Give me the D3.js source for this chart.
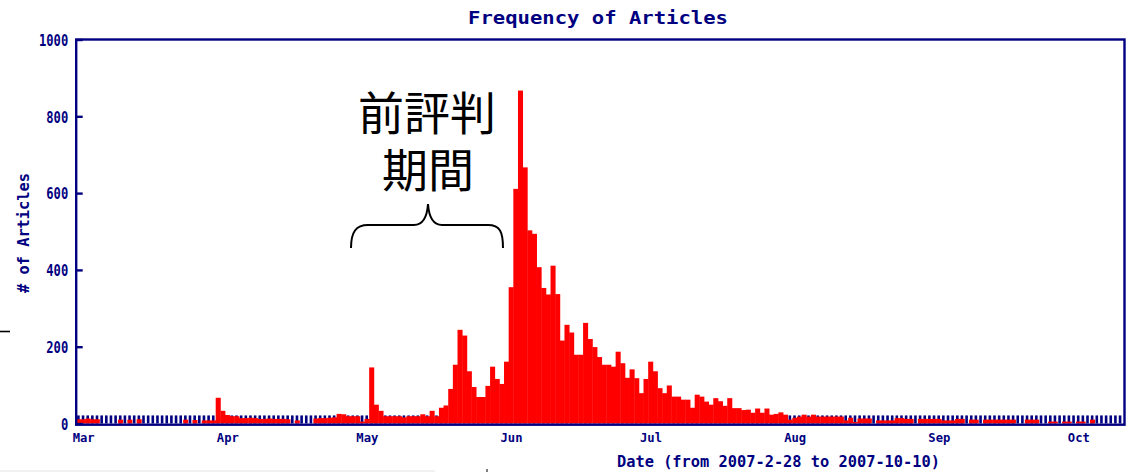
<!DOCTYPE html>
<html>
<head>
<meta charset="utf-8">
<script src="https://cdn.jsdelivr.net/npm/d3@7"></script>
<style>
body{margin:0;background:#fff;}
svg{display:block;}
.pix{font-family:"DejaVu Sans Mono",monospace;font-weight:bold;fill:#000080;}
.jp{font-family:"Noto Sans CJK JP",sans-serif;fill:#000;}
</style>
</head>
<body>
<script>
var width=1128,height=472;
var navy="#000080";

// daily article counts, 2007-02-28 .. 2007-10-10
var startDate="2007-02-28";
var counts=[
	11,                                                                                   // Feb 28
	11,13,11,11,0,0,0,0,10,0,10,0,11,0,0,0,0,0,0,0,0,0,10,0,9,0,8,8,8,67,33,              // Mar
	22,19,19,14,14,15,14,12,12,13,12,12,12,11,0,8,0,0,0,13,14,14,15,16,25,24,19,19,19,5,  // Apr
	12,146,49,33,19,19,19,19,16,19,19,19,24,19,33,19,41,47,90,153,244,229,136,95,69,69,98,148,116,103,161, // May
	355,611,867,667,503,494,407,353,336,411,337,216,257,237,179,179,262,220,199,173,153,153,148,187,157,119,141,118,79,116, // Jun
	161,136,92,79,99,70,70,62,62,41,75,70,57,49,66,58,46,66,40,40,35,36,28,39,28,39,23,25,29,23,10, // Jul
	15,18,23,18,23,18,18,18,18,18,18,8,15,4,13,13,13,0,8,8,8,8,14,14,12,12,0,12,12,12,12, // Aug
	12,8,8,8,12,12,0,10,10,0,10,10,10,10,10,10,10,0,0,10,10,10,0,0,5,5,0,5,5,0,           // Sep
	5,5,0,10,0,0,0,0,0,0                                                                  // Oct
];
var monthStarts=["2007-03-01","2007-04-01","2007-05-01","2007-06-01","2007-07-01","2007-08-01","2007-09-01","2007-10-01"];
var monthNames=["Mar","Apr","May","Jun","Jul","Aug","Sep","Oct"];
var yTicks=[0,200,400,600,800,1000];
var noteLines=["前評判","期間"];
var dashLevel=21;

var parse=d3.utcParse("%Y-%m-%d");
var start=parse(startDate);
var days=counts.map(function(v,i){ return {date:d3.utcDay.offset(start,i),value:v}; });

var x=d3.scaleUtc()
	.domain([start,d3.utcDay.offset(start,counts.length)])
	.range([76.2,1122.5]);
var y=d3.scaleLinear()
	.domain([0,1000])
	.range([423.5,39.5]);
var dayW=x(d3.utcDay.offset(start,1))-x(start);

var svg=d3.select("body").append("svg")
	.attr("width",width)
	.attr("height",height);

// navy dash row along the base
svg.append("g").selectAll("rect")
	.data(days)
	.enter().append("rect")
	.attr("x",function(d){ return x(d.date)+0.9; })
	.attr("y",y(dashLevel))
	.attr("width",2.6)
	.attr("height",y(0)-y(dashLevel))
	.attr("fill",navy);

// red bars
svg.append("g").selectAll("rect")
	.data(days.filter(function(d){ return d.value>0; }))
	.enter().append("rect")
	.attr("x",function(d){ return x(d.date); })
	.attr("y",function(d){ return y(d.value); })
	.attr("width",dayW+0.4)
	.attr("height",function(d){ return y(0)-y(d.value); })
	.attr("fill","#ff0000");

// frame
svg.append("rect")
	.attr("x",76.2).attr("y",39.5)
	.attr("width",1048.3).attr("height",385.2)
	.attr("fill","none")
	.attr("stroke",navy)
	.attr("stroke-width",2.4);

// y axis
var yAxis=svg.append("g")
	.attr("transform","translate(76.2,0)")
	.call(d3.axisLeft(y).tickValues(yTicks).tickSize(-6.5).tickPadding(8).tickFormat(d3.format("d")));
yAxis.select(".domain").remove();
yAxis.selectAll(".tick line").attr("stroke",navy).attr("stroke-width",2.4);
yAxis.selectAll(".tick text")
	.attr("class","pix")
	.attr("font-size",16)
	.attr("dy","0.36em")
	.attr("textLength",function(d){ return String(d).length*7.3; })
	.attr("lengthAdjust","spacingAndGlyphs");

// x axis (labels centred on the first day of each month)
var xAxis=svg.append("g")
	.attr("transform","translate("+(dayW/2)+",424)")
	.call(d3.axisBottom(x).tickValues(monthStarts.map(parse)).tickSize(0).tickFormat(function(d,i){ return monthNames[i]; }));
xAxis.select(".domain").remove();
xAxis.selectAll(".tick text")
	.attr("class","pix")
	.attr("font-size",12.5)
	.attr("y",17.7)
	.attr("dy",0)
	.attr("textLength",22)
	.attr("lengthAdjust","spacingAndGlyphs");

// titles
svg.append("text")
	.attr("class","pix")
	.attr("x",598).attr("y",24)
	.attr("text-anchor","middle")
	.attr("font-size",18)
	.attr("textLength",260)
	.attr("lengthAdjust","spacingAndGlyphs")
	.text("Frequency of Articles");

svg.append("text")
	.attr("class","pix")
	.attr("transform","translate(29,233) rotate(-90)")
	.attr("text-anchor","middle")
	.attr("font-size",15)
	.attr("textLength",120)
	.attr("lengthAdjust","spacingAndGlyphs")
	.text("# of Articles");

svg.append("text")
	.attr("class","pix")
	.attr("x",617).attr("y",467)
	.attr("font-size",16)
	.attr("textLength",323)
	.attr("lengthAdjust","spacingAndGlyphs")
	.text("Date (from 2007-2-28 to 2007-10-10)");

// annotation: two lines in one text block, then the brace
svg.append("text")
	.attr("class","jp")
	.attr("text-anchor","middle")
	.attr("font-size",46)
	.selectAll("tspan")
	.data(noteLines)
	.enter().append("tspan")
	.attr("x",function(d,i){ return 427+i; })
	.attr("y",function(d,i){ return 130+i*57; })
	.text(function(d){ return d; });
svg.append("path")
	.attr("d","M351,248 C351,232 356,225 368,225 L414,225 C422,225 427,218 428,204 C429,218 434,225 442,225 L488,225 C500,225 503,232 503,248")
	.attr("fill","none")
	.attr("stroke","#000")
	.attr("stroke-width",2);

// slide leftovers
svg.append("line").attr("x1",0).attr("x2",10).attr("y1",331.5).attr("y2",331.5)
	.attr("stroke","#000").attr("stroke-width",1.6);
svg.append("line").attr("x1",0).attr("x2",435).attr("y1",471).attr("y2",471)
	.attr("stroke","#e4e4e4").attr("stroke-width",1);
svg.append("line").attr("x1",487).attr("x2",487).attr("y1",469).attr("y2",472)
	.attr("stroke","#000").attr("stroke-width",1);
</script>
</body>
</html>
